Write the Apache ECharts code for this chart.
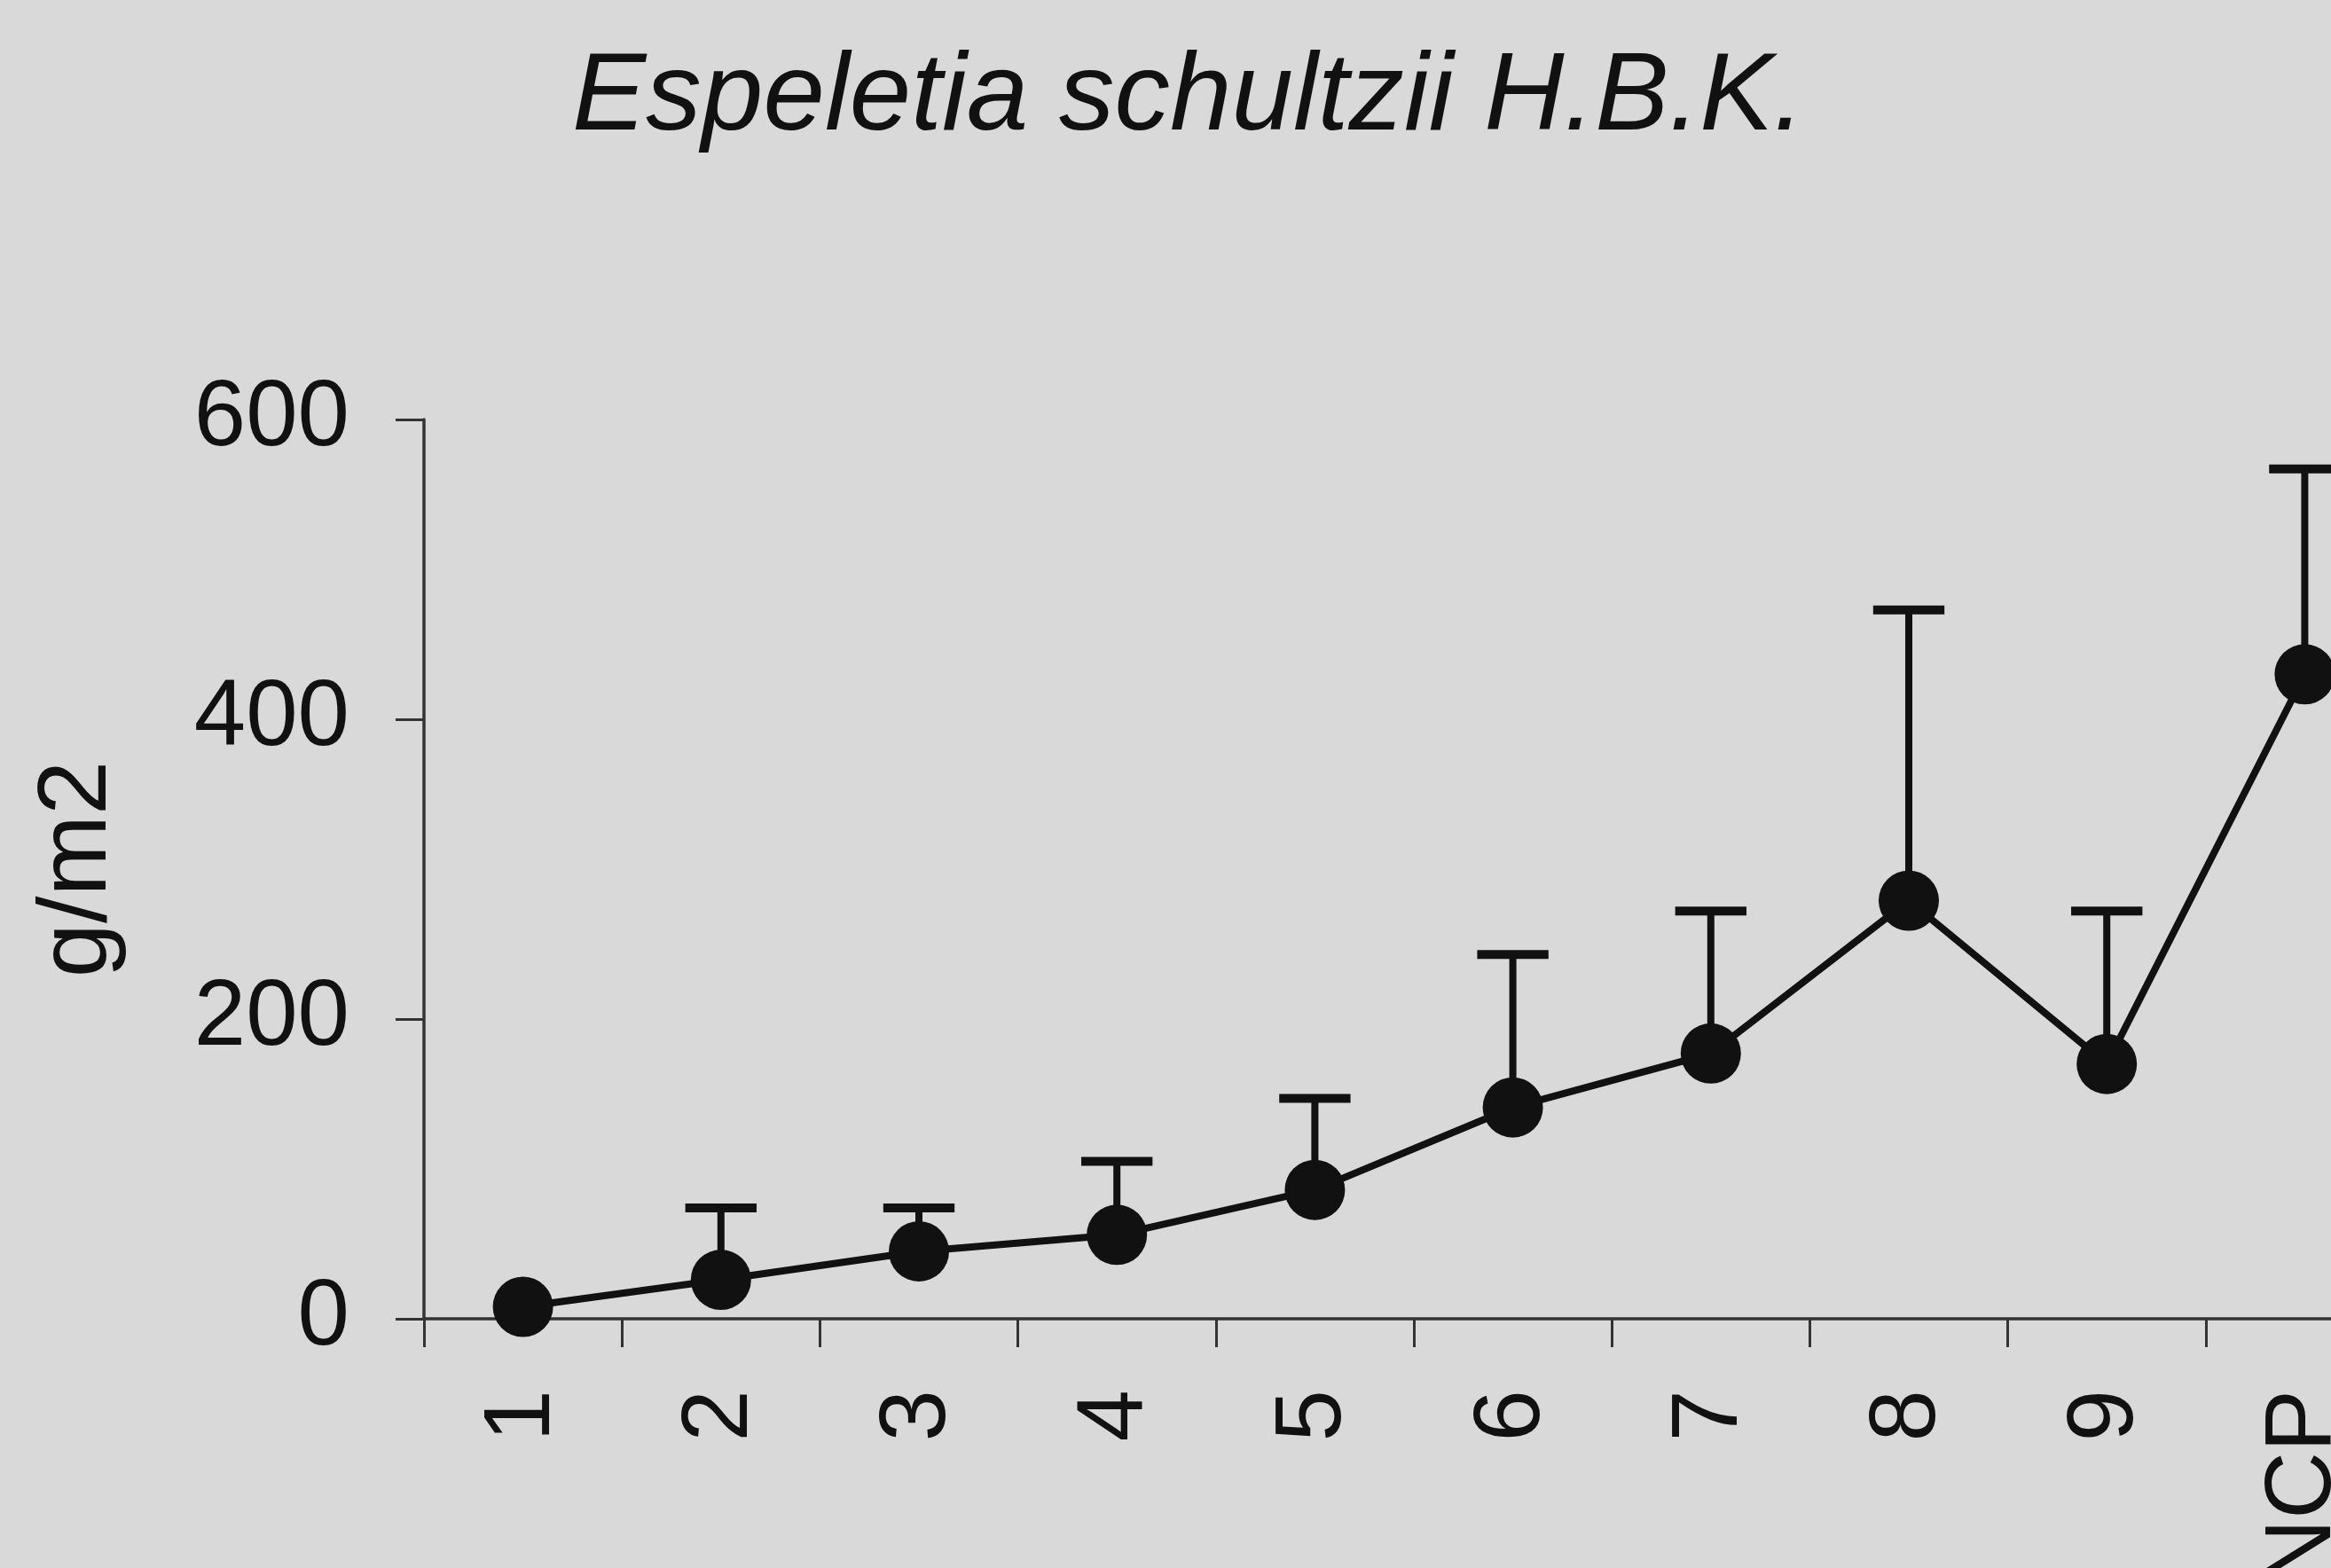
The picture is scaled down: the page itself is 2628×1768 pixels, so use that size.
<!DOCTYPE html>
<html>
<head>
<meta charset="utf-8">
<title>Espeletia schultzii H.B.K.</title>
<script src="https://cdn.jsdelivr.net/npm/echarts@6/dist/echarts.min.js"></script>
<style>
  html, body { margin: 0; padding: 0; background: #d9d9d9; }
  #chart { width: 2628px; height: 1768px; }
</style>
</head>
<body>
<div id="chart"></div>
<script>
// Sites along the transect, plus the reference plot (NCP)
const categories = ['1', '2', '3', '4', '5', '6', '7', '8', '9', 'NCP'];
// Mean biomass per site, g/m2
const meanValues = [8, 26, 45, 56, 86, 141, 177, 279, 170, 430];
// Standard deviation (drawn as upper error bar only); null = not drawn
const sdValues = [null, 48, 29, 49, 61, 102, 95, 194, 102, 137];
// Y-axis ticks
const yTicks = [0, 200, 400, 600];

const FONT = "'Liberation Sans', Arial, sans-serif";
const INK = '#111111';

const errorData = categories.map((c, i) => [i, meanValues[i], sdValues[i] == null ? null : meanValues[i] + sdValues[i]]);

const chart = echarts.init(document.getElementById('chart'), null, { renderer: 'canvas' });

chart.setOption({
  backgroundColor: '#d9d9d9',
  animation: false,
  title: {
    text: 'Espeletia schultzii H.B.K.',
    left: 640,
    top: 44,
    textStyle: {
      fontFamily: FONT,
      fontStyle: 'italic',
      fontWeight: 'normal',
      fontSize: 125,
      color: INK
    }
  },
  grid: { left: 478, top: 473, width: 2232, height: 1014, outerBoundsMode: 'none', containLabel: false },
  xAxis: {
    type: 'category',
    data: categories,
    boundaryGap: true,
    axisLine: { lineStyle: { color: '#333', width: 3.5 } },
    axisTick: { show: true, length: 32, alignWithLabel: false, lineStyle: { color: '#333', width: 3 } },
    axisLabel: {
      rotate: 90,
      margin: 80,
      fontFamily: FONT,
      fontSize: 105,
      color: INK,
      interval: 0
    },
    splitLine: { show: false }
  },
  yAxis: {
    type: 'value',
    min: yTicks[0],
    max: yTicks[yTicks.length - 1],
    interval: yTicks[1] - yTicks[0],
    name: 'g/m2',
    nameLocation: 'middle',
    nameRotate: 90,
    nameGap: 334,
    nameTextStyle: { fontFamily: FONT, fontSize: 110, color: INK },
    axisLine: { show: true, lineStyle: { color: '#333', width: 3.5 } },
    axisTick: { show: true, length: 32, lineStyle: { color: '#333', width: 3 } },
    axisLabel: { margin: 84, fontFamily: FONT, fontSize: 105, color: INK },
    splitLine: { show: false }
  },
  series: [
    {
      type: 'custom',
      name: 'SD',
      z: 1,
      data: errorData,
      encode: { x: 0, y: [1, 2] },
      renderItem: function (params, api) {
        const top = api.value(2);
        if (top == null || isNaN(top)) return null;
        const idx = api.value(0);
        const p0 = api.coord([idx, api.value(1)]);
        const p1 = api.coord([idx, top]);
        const capHalf = api.size([1, 0])[0] * 0.18;
        return {
          type: 'group',
          children: [
            {
              type: 'line',
              shape: { x1: p0[0], y1: p0[1], x2: p1[0], y2: p1[1] },
              style: { stroke: INK, lineWidth: 8 }
            },
            {
              type: 'line',
              shape: { x1: p1[0] - capHalf, y1: p1[1], x2: p1[0] + capHalf, y2: p1[1] },
              style: { stroke: INK, lineWidth: 10 }
            }
          ]
        };
      }
    },
    {
      type: 'line',
      name: 'Mean',
      z: 2,
      data: meanValues,
      symbol: 'circle',
      symbolSize: 68,
      lineStyle: { color: INK, width: 8 },
      itemStyle: { color: INK }
    }
  ]
});
</script>
</body>
</html>
